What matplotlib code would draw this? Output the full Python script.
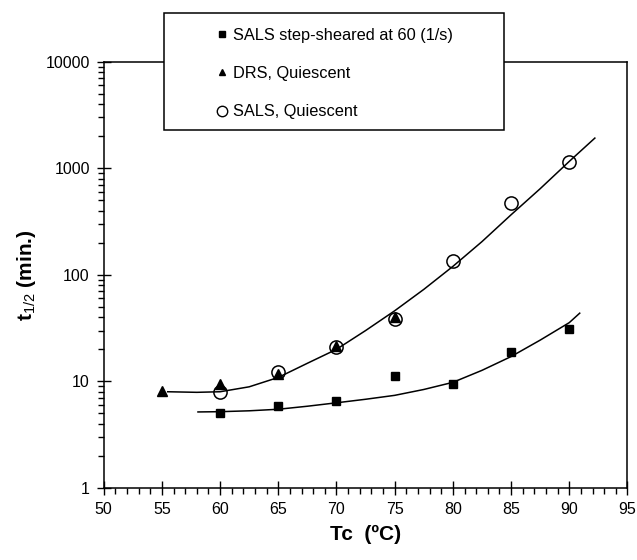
import matplotlib
matplotlib.use("Agg")
import matplotlib.pyplot as plt
from matplotlib.patches import Rectangle
from matplotlib.lines import Line2D
from matplotlib.ticker import LogLocator, MultipleLocator, NullFormatter

plt.rcParams['font.family'] = ['Liberation Sans', 'DejaVu Sans']
plt.rcParams['mathtext.fontset'] = 'custom'
plt.rcParams['mathtext.rm'] = 'Liberation Sans'
plt.rcParams['mathtext.bf'] = 'Liberation Sans:bold'

# measured points
sheared_x = [60, 65, 70, 75, 80, 85, 90]
sheared_y = [5.0, 5.9, 6.55, 11.3, 9.5, 19.0, 31.0]

drs_x = [55, 60, 65, 70, 75]
drs_y = [8.15, 9.4, 11.8, 21.5, 40.0]

quiescent_x = [60, 65, 70, 75, 80, 85, 90]
quiescent_y = [8.0, 12.2, 21.0, 38.6, 136, 471, 1143]

# fit curves
fit_up_x = [55.5, 58, 60, 62.5, 65, 67.5, 70, 72.5, 75, 77.5, 80, 82.5, 85, 87.5, 90, 92.2]
fit_up_y = [8.0, 7.9, 8.0, 8.9, 10.9, 14.8, 20, 30, 46, 73, 120, 205, 366, 643, 1160, 1920]

fit_lo_x = [58.1, 60, 62.5, 65, 67.5, 70, 72.5, 75, 77.5, 80, 82.5, 85, 87.5, 90, 90.9]
fit_lo_y = [5.17, 5.2, 5.3, 5.48, 5.85, 6.3, 6.8, 7.4, 8.4, 9.8, 12.7, 17.1, 24.4, 35.6, 43.7]

labels = ['SALS step-sheared at 60 (1/s)', 'DRS, Quiescent', 'SALS, Quiescent']

fig = plt.figure(figsize=(6.37, 5.6), dpi=100)
ax = fig.add_axes([0.1628, 0.1286, 0.8222, 0.7612])

ax.plot(fit_up_x, fit_up_y, color='black', lw=1.1, zorder=2)
ax.plot(fit_lo_x, fit_lo_y, color='black', lw=1.1, zorder=2)

ax.plot(quiescent_x, quiescent_y, 'o', ms=9.5, mfc='none', mec='black', mew=1.1, zorder=3)
ax.plot(drs_x, drs_y, '^', ms=6.5, color='black', zorder=4)
ax.plot(sheared_x, sheared_y, 's', ms=6.2, color='black', zorder=4)

ax.set_yscale('log')
ax.set_xlim(50, 95)
ax.set_ylim(1, 10000)
ax.xaxis.set_major_locator(MultipleLocator(5))
ax.xaxis.set_minor_locator(MultipleLocator(1))
ax.yaxis.set_minor_locator(LogLocator(base=10, subs=range(2, 10), numticks=20))
ax.yaxis.set_minor_formatter(NullFormatter())
ax.set_yticks([1, 10, 100, 1000, 10000])
ax.set_yticklabels(['1', '10', '100', '1000', '10000'])

ax.tick_params(which='major', direction='inout', length=10, width=1, labelsize=11.5, pad=5)
ax.tick_params(which='minor', direction='out', length=4.5, width=1)
for s in ax.spines.values():
    s.set_linewidth(1.1)

ax.set_xlabel('Tc  (ºC)', fontsize=15, fontweight='bold', labelpad=6)
ax.set_ylabel(r'$\mathbf{t}_{\mathrm{1/2}}$ (min.)', fontsize=15, fontweight='bold', labelpad=5)

# legend box sits over the top spine
fig.patches.append(Rectangle((0.258, 0.768), 0.533, 0.2095, transform=fig.transFigure,
                             facecolor='white', edgecolor='black', lw=1.1, zorder=1))
handles = [
    Line2D([], [], ls='none', marker='s', ms=5, color='black'),
    Line2D([], [], ls='none', marker='^', ms=5, color='black'),
    Line2D([], [], ls='none', marker='o', ms=7.5, mfc='none', mec='black'),
]
fig.legend(handles, labels, loc='upper left', bbox_to_anchor=(0.327, 0.965),
           frameon=False, fontsize=11.8, handlelength=0.7, handletextpad=0.3,
           labelspacing=1.42, borderpad=0)

fig.savefig('out.png', dpi=100)
